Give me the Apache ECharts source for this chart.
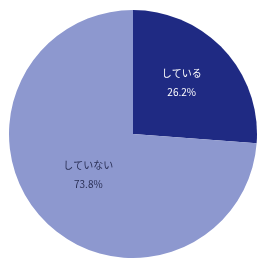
<!DOCTYPE html>
<html>
<head>
<meta charset="utf-8">
<script src="https://cdn.jsdelivr.net/npm/echarts@6/dist/echarts.min.js"></script>
<style>
  html, body { margin: 0; padding: 0; background: #fff; }
  #chart { width: 259px; height: 259px; }
</style>
</head>
<body>
<div id="chart"></div>
<script>
  // カテゴリと値
  var categories = ['している', 'していない'];
  var values = [26.2, 73.8];
  var colors = ['#1f2a83', '#8d98cf'];
  var labelColors = ['#ffffff', '#2a2f55'];
  var labelOffsets = [[1, -7], [3, -3]];

  var pieData = categories.map(function (name, i) {
    return {
      name: name,
      value: values[i],
      itemStyle: { color: colors[i] },
      label: { color: labelColors[i], offset: labelOffsets[i] }
    };
  });

  var myChart = echarts.init(document.getElementById('chart'));
  myChart.setOption({
    animation: false,
    series: [{
      type: 'pie',
      center: [133, 134],
      radius: [0, 124],
      startAngle: 90,
      clockwise: true,
      label: {
        show: true,
        position: 'inner',
        fontFamily: '"Noto Sans CJK JP", sans-serif',
        fontSize: 10,
        lineHeight: 19,
        formatter: function (p) {
          return p.name + '\n' + p.value.toFixed(1) + '%';
        }
      },
      labelLine: { show: false },
      itemStyle: { borderWidth: 0 },
      data: pieData
    }]
  });
</script>
</body>
</html>
